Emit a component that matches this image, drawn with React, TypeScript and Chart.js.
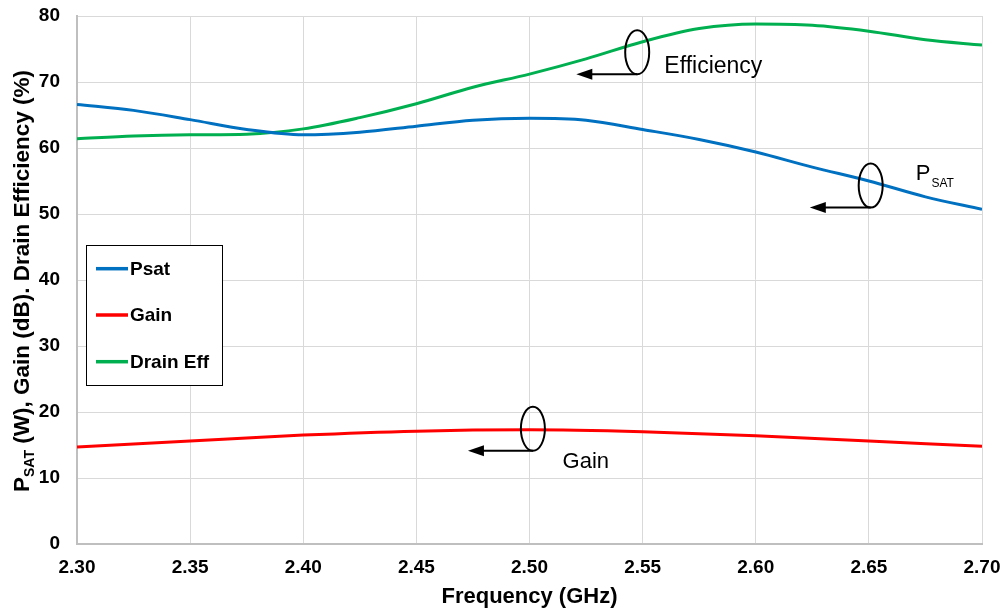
import React, { useEffect, useRef } from "react";
import { Chart, registerables } from "chart.js";

Chart.register(...registerables);

// ---- Data ----
const freqFine = [2.3, 2.325, 2.35, 2.375, 2.4, 2.425, 2.45, 2.475, 2.5, 2.525, 2.55, 2.575, 2.6, 2.625, 2.65, 2.675, 2.7];
const psatValues = [66.6, 65.7, 64.3, 62.8, 62.0, 62.4, 63.3, 64.2, 64.5, 64.2, 62.8, 61.3, 59.4, 57.1, 55.0, 52.6, 50.7];
const effValues = [61.4, 61.8, 62.0, 62.1, 62.9, 64.6, 66.7, 69.2, 71.2, 73.5, 76.1, 78.1, 78.8, 78.6, 77.7, 76.4, 75.6];
const freqCoarse = [2.3, 2.35, 2.4, 2.45, 2.5, 2.55, 2.6, 2.65, 2.7];
const gainValues = [14.7, 15.6, 16.5, 17.1, 17.3, 17.0, 16.4, 15.6, 14.8];

const seriesNames = ["Psat", "Gain", "Drain Eff"];
const seriesColors = ["#0070C0", "#FF0000", "#00B050"];

const xTitle = "Frequency (GHz)";
const yTitleMain = "P";
const yTitleSub = "SAT";
const yTitleRest = " (W), Gain (dB). Drain Efficiency (%)";

// Annotation callouts (data units)
const callouts = [
  { cx: 2.5476, cy: 74.5, tipX: 2.5207, label: "Efficiency", sub: "", tx: 2.5596, ty: 71.4, size: 23 },
  { cx: 2.6508, cy: 54.3, tipX: 2.6239, label: "P", sub: "SAT", tx: 2.6707, ty: 55.1, size: 22 },
  { cx: 2.5015, cy: 17.45, tipX: 2.4728, label: "Gain", sub: "", tx: 2.5146, ty: 11.5, size: 22 },
];

const FONT = "'Liberation Sans', Arial, Helvetica, sans-serif";

const decorPlugin = {
  id: "decor",
  afterDatasetsDraw(chart: any) {
    const { ctx, chartArea, scales } = chart;
    const xs = scales.x;
    const ys = scales.y;
    ctx.save();

    // Callouts
    ctx.strokeStyle = "#000";
    ctx.fillStyle = "#000";
    ctx.lineWidth = 2;
    for (const c of callouts) {
      const px = xs.getPixelForValue(c.cx);
      const py = ys.getPixelForValue(c.cy);
      const rx = 12;
      const ry = 22;
      ctx.beginPath();
      ctx.ellipse(px, py, rx, ry, 0, 0, Math.PI * 2);
      ctx.stroke();
      const by = py + ry;
      const tip = xs.getPixelForValue(c.tipX);
      ctx.beginPath();
      ctx.moveTo(px, by);
      ctx.lineTo(tip + 12, by);
      ctx.stroke();
      ctx.beginPath();
      ctx.moveTo(tip, by);
      ctx.lineTo(tip + 16, by - 5.5);
      ctx.lineTo(tip + 16, by + 5.5);
      ctx.closePath();
      ctx.fill();
      const tx = xs.getPixelForValue(c.tx);
      const ty = ys.getPixelForValue(c.ty);
      ctx.font = `${c.size}px ${FONT}`;
      ctx.textAlign = "left";
      ctx.textBaseline = "alphabetic";
      ctx.fillText(c.label, tx, ty);
      if (c.sub) {
        const w = ctx.measureText(c.label).width;
        ctx.font = `12px ${FONT}`;
        ctx.fillText(c.sub, tx + w + 1, ty + 7);
      }
    }

    // Legend box
    const lx = chartArea.left + 9;
    const ly = chartArea.top + 229;
    ctx.fillStyle = "#fff";
    ctx.fillRect(lx, ly, 136, 140);
    ctx.strokeStyle = "#000";
    ctx.lineWidth = 1;
    ctx.strokeRect(lx + 0.5, ly + 0.5, 136, 140);
    const rowY = [23.7, 70, 116.7];
    ctx.font = `bold 19px ${FONT}`;
    ctx.textBaseline = "middle";
    for (let i = 0; i < seriesNames.length; i++) {
      const yy = ly + rowY[i];
      ctx.strokeStyle = seriesColors[i];
      ctx.lineWidth = 3.5;
      ctx.beginPath();
      ctx.moveTo(lx + 10, yy);
      ctx.lineTo(lx + 42, yy);
      ctx.stroke();
      ctx.fillStyle = "#000";
      ctx.fillText(seriesNames[i], lx + 44, yy + 1);
    }

    // X title
    ctx.textBaseline = "alphabetic";
    ctx.textAlign = "center";
    ctx.font = `bold 22px ${FONT}`;
    ctx.fillText(xTitle, (chartArea.left + chartArea.right) / 2, 603);

    // Y title (rotated, with subscript)
    ctx.textAlign = "left";
    const mainFont = `bold 22.5px ${FONT}`;
    const subFont = `bold 14px ${FONT}`;
    ctx.font = mainFont;
    const w1 = ctx.measureText(yTitleMain).width;
    const w3 = ctx.measureText(yTitleRest).width;
    ctx.font = subFont;
    const w2 = ctx.measureText(yTitleSub).width;
    const total = w1 + w2 + w3;
    const cy = (chartArea.top + chartArea.bottom) / 2;
    ctx.translate(29, cy + total / 2 + 1);
    ctx.rotate(-Math.PI / 2);
    ctx.font = mainFont;
    ctx.fillText(yTitleMain, 0, 0);
    ctx.font = subFont;
    ctx.fillText(yTitleSub, w1, 5);
    ctx.font = mainFont;
    ctx.fillText(yTitleRest, w1 + w2, 0);

    ctx.restore();
  },
};

export default function App() {
  const canvasRef = useRef<HTMLCanvasElement | null>(null);

  useEffect(() => {
    const canvas = canvasRef.current;
    if (!canvas) return;
    const lineCommon = {
      borderWidth: 3,
      pointRadius: 0,
      cubicInterpolationMode: "monotone" as const,
    };
    const chart = new Chart(canvas, {
      type: "line",
      data: {
        datasets: [
          {
            label: seriesNames[0],
            data: freqFine.map((f, i) => ({ x: f, y: psatValues[i] })),
            borderColor: seriesColors[0],
            backgroundColor: seriesColors[0],
            ...lineCommon,
          },
          {
            label: seriesNames[1],
            data: freqCoarse.map((f, i) => ({ x: f, y: gainValues[i] })),
            borderColor: seriesColors[1],
            backgroundColor: seriesColors[1],
            ...lineCommon,
          },
          {
            label: seriesNames[2],
            data: freqFine.map((f, i) => ({ x: f, y: effValues[i] })),
            borderColor: seriesColors[2],
            backgroundColor: seriesColors[2],
            ...lineCommon,
          },
        ],
      },
      options: {
        animation: false,
        responsive: false,
        devicePixelRatio: 1,
        layout: { padding: 0 },
        plugins: {
          legend: { display: false },
          tooltip: { enabled: false },
        },
        scales: {
          x: {
            type: "linear",
            min: 2.3,
            max: 2.7,
            ticks: {
              stepSize: 0.05,
              padding: 12,
              color: "#000",
              font: { family: FONT, size: 19, weight: "bold" },
              maxRotation: 0,
              callback: (v: any) => Number(v).toFixed(2),
            },
            grid: { color: "#d9d9d9", lineWidth: 1, drawTicks: false },
            border: { color: "#bfbfbf", width: 2 },
            afterFit: (s: any) => {
              s.height = 68;
              s.paddingLeft = 0;
              s.paddingRight = 21;
            },
          },
          y: {
            min: 0,
            max: 80,
            ticks: {
              stepSize: 10,
              padding: 17,
              color: "#000",
              font: { family: FONT, size: 19, weight: "bold" },
            },
            grid: { color: "#d9d9d9", lineWidth: 1, drawTicks: false },
            border: { color: "#bfbfbf", width: 2 },
            afterFit: (s: any) => {
              s.width = 77;
              s.paddingTop = 16;
              s.paddingBottom = 0;
            },
          },
        },
      },
      plugins: [decorPlugin],
    });
    return () => chart.destroy();
  }, []);

  return (
    <div style={{ position: "absolute", left: 0, top: 0, width: 1003, height: 612, background: "#fff" }}>
      <canvas ref={canvasRef} width={1003} height={612} style={{ display: "block" }} />
    </div>
  );
}
